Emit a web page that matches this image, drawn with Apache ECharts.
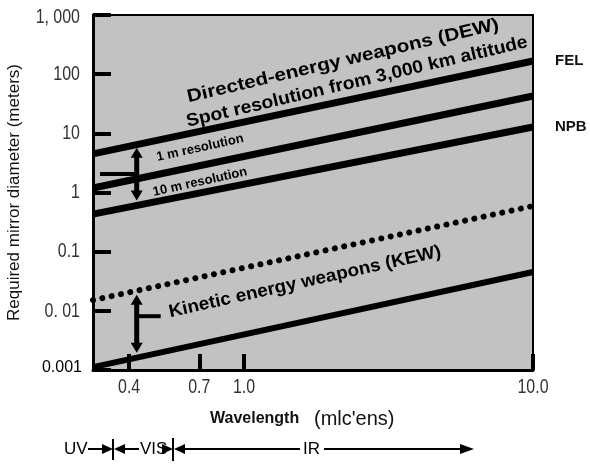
<!DOCTYPE html>
<html>
<head>
<meta charset="utf-8">
<script src="https://cdn.jsdelivr.net/npm/echarts@6/dist/echarts.min.js"></script>
<style>html,body{margin:0;padding:0;background:#fff;}#c{width:590px;height:464px;}</style>
</head>
<body>
<div id="c"></div>
<script>
// ---- data (log-log, straight lines) ----
const wavelength = [0.3, 10];          // microns, left and right edge of plot
const felLine   = [4.5, 167];          // top line (FEL)
const midLine   = [1.19, 42.8];        // middle line
const npbLine   = [0.43, 12.8];        // NPB line
const kewUpper  = [0.0152, 0.59];      // dotted line
const kewLine   = [0.00112, 0.0454];   // bottom line (KEW)
const xTickValues = [0.4, 0.7, 1.0, 10];
const xTickLabels = ['0.4', '0.7', '1.0', '10.0'];
const yTickValues = [0.001, 0.01, 0.1, 1, 10, 100, 1000];
const yTickLabels = ['0.001', '0. 01', '0.1', '1', '10', '100', '1, 000'];

const SANS = '"Liberation Sans",Arial,sans-serif';

const chart = echarts.init(document.getElementById('c'));
const pts = arr => wavelength.map((x, i) => [x, arr[i]]);
const lineSeries = (name, arr, width, extra) => Object.assign({
  name, type: 'line', data: pts(arr), symbol: 'none', silent: true, clip: true,
  lineStyle: {color: '#000', width: width, cap: 'butt'}, z: 5
}, extra || {});

chart.setOption({
  animation: false,
  backgroundColor: '#fff',
  grid: {left: 93, right: 57, top: 15, bottom: 94, show: true, containLabel: false, outerBoundsMode: 'none',
         backgroundColor: '#c2c2c2', borderColor: '#000', borderWidth: 2},
  xAxis: {
    type: 'log', logBase: 10, min: 0.3, max: 10,
    axisLine: {show: true, lineStyle: {color: '#000', width: 3}},
    splitLine: {show: false}, minorTick: {show: false},
    axisTick: {show: true, inside: true, length: 16, customValues: xTickValues,
               lineStyle: {color: '#000', width: 4}},
    axisLabel: {show: false}
  },
  yAxis: {
    type: 'log', logBase: 10, min: 0.001, max: 1000,
    name: 'Required mirror diameter (meters)', nameLocation: 'middle', nameGap: 70, nameMoveOverlap: false,
    nameTextStyle: {fontFamily: SANS, fontSize: 17, color: '#111'},
    axisLine: {show: true, lineStyle: {color: '#000', width: 3}},
    splitLine: {show: false},
    axisTick: {show: true, inside: true, length: 18, lineStyle: {color: '#000', width: 4}},
    axisLabel: {show: false}
  },
  series: [
    lineSeries('FEL', felLine, 7, {endLabel: {show: true, formatter: 'FEL', distance: 22,
      fontFamily: SANS, fontWeight: 'bold', fontSize: 15, color: '#111'}}),
    lineSeries('mid', midLine, 7),
    lineSeries('NPB', npbLine, 7, {endLabel: {show: true, formatter: 'NPB', distance: 22,
      fontFamily: SANS, fontWeight: 'bold', fontSize: 15, color: '#111'}}),
    lineSeries('KEW upper', kewUpper, 6, {lineStyle: {color: '#000', width: 6, type: [0.01, 9.5], cap: 'round'}}),
    lineSeries('KEW', kewLine, 6)
  ]
});

// helpers for annotations anchored in data space
const interp = (arr, x) => {
  const t = (Math.log10(x) - Math.log10(wavelength[0])) / (Math.log10(wavelength[1]) - Math.log10(wavelength[0]));
  return Math.pow(10, Math.log10(arr[0]) + t * (Math.log10(arr[1]) - Math.log10(arr[0])));
};
const px = (x, y) => chart.convertToPixel({gridIndex: 0}, [x, y]);

const gfx = [];
function vArrow(x, y1, y2) {
  const h = 9, w = 6;
  gfx.push({type: 'line', shape: {x1: x, y1: y1 + h, x2: x, y2: y2 - h}, style: {stroke: '#000', lineWidth: 5}, z: 10});
  gfx.push({type: 'polygon', shape: {points: [[x, y1], [x - w, y1 + h + 1], [x + w, y1 + h + 1]]}, style: {fill: '#000'}, z: 10});
  gfx.push({type: 'polygon', shape: {points: [[x, y2], [x - w, y2 - h - 1], [x + w, y2 - h - 1]]}, style: {fill: '#000'}, z: 10});
}
function hLine(x1, x2, y, lw) {
  gfx.push({type: 'line', shape: {x1, y1: y, x2, y2: y}, style: {stroke: '#000', lineWidth: lw}, z: 10});
}
function hHead(tipX, y, dir, len, half) { // dir = 1 points right, -1 points left
  gfx.push({type: 'polygon', shape: {points: [[tipX, y], [tipX - dir * len, y - half], [tipX - dir * len, y + half]]}, style: {fill: '#000'}, z: 10});
}
function txt(x, y, text, font, rotation, scaleX) {
  gfx.push({type: 'text', x, y, rotation: rotation || 0, scaleX: scaleX || 1,
    style: {text, font, fill: '#000', align: 'center', verticalAlign: 'middle'}, z: 12});
}

// narrow tick labels (condensed by horizontal scaling)
const tickFont = '21px "Liberation Sans", Arial, sans-serif';
xTickValues.forEach((v, i) => {
  const p = px(v, 0.001);
  gfx.push({type: 'text', x: p[0], y: p[1] + 17, scaleX: 0.76,
    style: {text: xTickLabels[i], font: tickFont, fill: '#333', align: 'center', verticalAlign: 'middle'}});
});
yTickValues.forEach((v, i) => {
  const p = px(0.3, v);
  if (i === 0) {
    gfx.push({type: 'text', x: p[0] - 11, y: p[1] - 2,
      style: {text: yTickLabels[i], font: '16px "Liberation Sans", Arial, sans-serif', fill: '#000', align: 'right', verticalAlign: 'middle'}});
  } else {
    gfx.push({type: 'text', x: p[0] - 13, y: p[1] + (i === 6 ? 2 : 0), scaleX: 0.76,
      style: {text: yTickLabels[i], font: tickFont, fill: '#333', align: 'right', verticalAlign: 'middle'}});
  }
});

const ax = 0.425;
const a1 = px(ax, interp(felLine, ax)), a1b = px(ax, interp(npbLine, ax));
vArrow(a1[0], a1[1] + 3, a1b[1] - 5);
hLine(100, a1[0], (a1[1] + a1b[1]) / 2 - 1, 4);
const a2 = px(ax, interp(kewUpper, ax)), a2b = px(ax, interp(kewLine, ax));
vArrow(a2[0], a2[1] + 4, a2b[1] - 5);
hLine(a2[0], a2[0] + 24, (a2[1] + a2b[1]) / 2 - 8, 4);

const rot = 13.2 * Math.PI / 180;
const bold18 = 'bold 18px "Liberation Sans", Arial, sans-serif';
txt(343, 61, 'Directed-energy weapons (DEW)', bold18, rot, 1.15);
txt(357, 82, 'Spot resolution from 3,000 km altitude', bold18, rot, 1.07);
txt(200, 148, '1 m resolution', 'bold 13px "Liberation Sans", Arial, sans-serif', 12.5 * Math.PI / 180);
txt(200, 182, '10 m resolution', 'bold 13px "Liberation Sans", Arial, sans-serif', 12.5 * Math.PI / 180);
txt(305, 282, 'Kinetic energy weapons (KEW)', bold18, 12.6 * Math.PI / 180, 1.05);

// x-axis title
gfx.push({type: 'text', x: 210, y: 419, style: {text: 'Wavelength', font: 'bold 16px "Liberation Sans", Arial, sans-serif', fill: '#111', verticalAlign: 'middle'}});
gfx.push({type: 'text', x: 314, y: 419, style: {text: "(mlc'ens)", font: '20px "Liberation Sans", Arial, sans-serif', fill: '#111', verticalAlign: 'middle'}});

// UV / VIS / IR band bar
const by = 449;
const bandFont = '17px "Liberation Sans", Arial, sans-serif';
gfx.push({type: 'text', x: 64, y: by, style: {text: 'UV', font: bandFont, fill: '#000', verticalAlign: 'middle'}});
hLine(88, 104, by, 2); hHead(113, by, 1, 11, 5);
gfx.push({type: 'line', shape: {x1: 113, y1: by - 10, x2: 113, y2: by + 11}, style: {stroke: '#000', lineWidth: 2}});
hHead(114, by, -1, 11, 5); hLine(123, 139, by, 2);
gfx.push({type: 'text', x: 140, y: by, style: {text: 'VIS', font: bandFont, fill: '#000', verticalAlign: 'middle'}});
hHead(173, by, 1, 11, 5);
gfx.push({type: 'line', shape: {x1: 173, y1: by - 11, x2: 173, y2: by + 12}, style: {stroke: '#000', lineWidth: 2}});
hHead(174, by, -1, 11, 5); hLine(183, 300, by, 2);
gfx.push({type: 'text', x: 303, y: by, style: {text: 'IR', font: bandFont, fill: '#000', verticalAlign: 'middle'}});
hLine(324, 462, by, 2); hHead(474, by, 1, 14, 5);

chart.setOption({graphic: {elements: gfx}});
</script>
</body>
</html>
